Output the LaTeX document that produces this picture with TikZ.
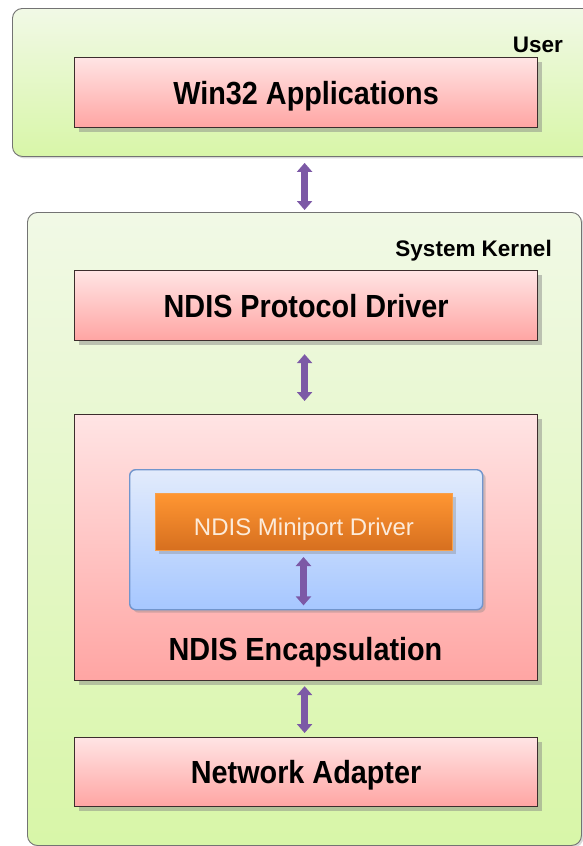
\documentclass[tikz,border=0pt]{standalone}
\usepackage{fontspec}
\setmainfont{Liberation Sans}
\newfontfamily\boxfont[FakeStretch=0.9]{Liberation Sans}
\usetikzlibrary{shadows,arrows.meta}
\definecolor{greenTop}{RGB}{241,249,230}
\definecolor{greenBot}{RGB}{216,246,168}
\definecolor{pinkTop}{RGB}{255,228,228}
\definecolor{pinkBot}{RGB}{255,165,163}
\definecolor{blueTop}{RGB}{226,235,252}
\definecolor{blueBot}{RGB}{166,199,255}
\definecolor{blueEdge}{RGB}{113,149,204}
\definecolor{orTop}{RGB}{255,150,50}
\definecolor{orBot}{RGB}{214,111,31}
\definecolor{orEdge}{RGB}{247,160,75}
\definecolor{orText}{RGB}{252,235,218}
\definecolor{arrowPurple}{RGB}{124,89,166}
\definecolor{darkEdge}{RGB}{60,45,45}
\tikzset{
  greenbox/.style={draw=black!55, line width=0.9pt, rounded corners=10pt,
    top color=greenTop, bottom color=greenBot, inner sep=0pt,
    drop shadow={opacity=0.3, shadow xshift=2pt, shadow yshift=-2pt}},
  bigtext/.style={font=\boxfont\bfseries\fontsize{32}{36}\selectfont, text height=23pt, text depth=0pt},
  pinkbox/.style={draw=darkEdge, line width=1.2pt, top color=pinkTop, bottom color=pinkBot,
    inner sep=0pt, anchor=north west, bigtext,
    drop shadow={opacity=0.45, shadow xshift=4pt, shadow yshift=-4pt}},
  bluebox/.style={draw=blueEdge, line width=1.4pt, rounded corners=6pt, top color=blueTop,
    bottom color=blueBot, inner sep=0pt, anchor=north west,
    drop shadow={opacity=0.35, shadow xshift=3pt, shadow yshift=-3pt}},
  orangebox/.style={draw=orEdge, line width=1pt, top color=orTop, bottom color=orBot,
    inner sep=0pt, anchor=north west, text=orText,
    font=\fontsize{24}{28}\selectfont, text height=26pt, text depth=0pt,
    drop shadow={opacity=0.35, shadow xshift=3pt, shadow yshift=-3pt}},
  zonelabel/.style={font=\bfseries\fontsize{22.5}{26}\selectfont, anchor=base east, inner sep=0pt},
  dblarrow/.style={draw=arrowPurple, line width=6.5pt,
    {Triangle[width=15pt,length=9pt]}-{Triangle[width=15pt,length=9pt]}}
}
\begin{document}
\begin{tikzpicture}[x=1pt,y=-1pt]
\useasboundingbox (0,0) rectangle (583,846);
\clip (0,0) rectangle (583,846);
% zones
\node[greenbox, anchor=north west, minimum width=600pt, minimum height=148pt] (user) at (12,8) {};
\node[greenbox, anchor=north west, minimum width=554pt, minimum height=633pt] (kernel) at (27,212) {};
\node[zonelabel] (userlbl) at (563,52) {User};
\node[zonelabel] (kernellbl) at (552,256) {System Kernel};
% boxes
\node[pinkbox, minimum width=463pt, minimum height=70pt] (win) at (74,57) {Win32 Applications};
\node[pinkbox, minimum width=463pt, minimum height=70pt] (proto) at (74,270) {NDIS Protocol Driver};
\node[pinkbox, minimum width=463pt, minimum height=266pt] (encap) at (74,414) {};
\node[bigtext, inner sep=0pt] (encaplbl) at (305.5,649) {NDIS Encapsulation};
\node[bluebox, minimum width=353pt, minimum height=140pt] (blue) at (129,469) {};
\node[orangebox, minimum width=297pt, minimum height=57pt] (mini) at (155,493) {NDIS Miniport Driver};
\node[pinkbox, minimum width=463pt, minimum height=69pt] (net) at (74,737) {Network Adapter};
% arrows
\draw[dblarrow, shorten <=6pt, shorten >=2pt] ([xshift=-1.5pt]win.south |- user.south) -- ([xshift=-1.5pt]win.south |- kernel.north);
\draw[dblarrow, shorten <=13pt, shorten >=13pt] ([xshift=-1.5pt]proto.south) -- ([xshift=-1.5pt]encap.north);
\draw[dblarrow, shorten <=6pt, shorten >=5pt] ([xshift=-0.5pt]mini.south) -- ([xshift=-0.5pt]mini.south |- blue.south);
\draw[dblarrow, shorten <=5pt, shorten >=4pt] ([xshift=-1.5pt]encap.south) -- ([xshift=-1.5pt]net.north);
\end{tikzpicture}
\end{document}
